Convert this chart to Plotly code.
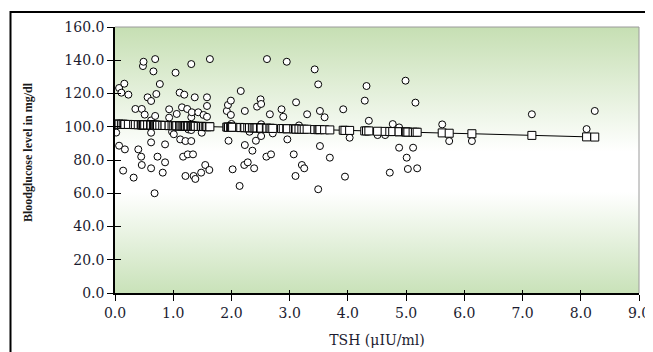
import plotly.graph_objects as go
import base64

# ---- data ----
tsh = [0.02, 0.07, 0.07, 0.11, 0.14, 0.16, 0.17, 0.23, 0.32, 0.35,
       0.40, 0.45, 0.46, 0.46, 0.48, 0.49, 0.51, 0.56, 0.62, 0.62,
       0.62, 0.62, 0.62, 0.66, 0.68, 0.69, 0.69, 0.71, 0.73, 0.77,
       0.82, 0.86, 0.86, 0.93, 0.93, 0.98, 1.01, 1.04, 1.06, 1.11,
       1.12, 1.15, 1.17, 1.19, 1.21, 1.21, 1.24, 1.25, 1.26, 1.31,
       1.31, 1.31, 1.31, 1.32, 1.34, 1.35, 1.37, 1.38, 1.43, 1.48,
       1.49, 1.52, 1.55, 1.58, 1.58, 1.58, 1.62, 1.63, 1.92, 1.94,
       1.95, 1.99, 1.99, 2.00, 2.02, 2.14, 2.16, 2.22, 2.23, 2.23,
       2.28, 2.31, 2.36, 2.39, 2.42, 2.44, 2.50, 2.51, 2.51, 2.51,
       2.60, 2.61, 2.66, 2.68, 2.71, 2.86, 2.89, 2.95, 2.96, 3.07,
       3.10, 3.11, 3.16, 3.21, 3.25, 3.30, 3.43, 3.49, 3.49, 3.52,
       3.52, 3.60, 3.69, 3.92, 3.95, 4.03, 4.29, 4.32, 4.36, 4.51,
       4.64, 4.72, 4.77, 4.88, 4.88, 4.99, 5.01, 5.03, 5.12, 5.16,
       5.19, 5.62, 5.74, 6.13, 7.16, 8.10, 8.24]

glucose = [96.5, 123.3, 88.6, 120.5, 73.6, 125.9, 86.4, 119.3, 69.4, 110.7,
           86.4, 82.0, 110.7, 77.0, 136.5, 139.1, 107.3, 117.7, 115.5, 103.8,
           96.4, 90.6, 75.0, 133.3, 60.0, 140.7, 106.5, 119.7, 82.0, 125.7,
           72.4, 89.4, 78.6, 110.5, 105.5, 97.0, 95.5, 132.5, 107.7, 120.5,
           92.4, 111.7, 82.0, 119.3, 91.4, 70.4, 110.7, 83.4, 98.4, 137.7,
           105.7, 98.0, 91.4, 108.7, 83.4, 70.4, 117.7, 68.6, 108.7, 72.4,
           96.4, 107.1, 77.0, 117.7, 112.5, 106.0, 74.0, 140.7, 109.5, 113.1,
           91.6, 115.7, 107.1, 101.7, 74.4, 64.4, 121.5, 77.0, 109.5, 89.0,
           78.6, 97.0, 85.6, 75.0, 91.6, 112.1, 116.5, 113.7, 101.5, 94.4,
           82.0, 140.7, 107.5, 83.4, 96.0, 110.5, 106.0, 139.1, 92.4, 83.4,
           70.4, 114.7, 100.8, 77.0, 75.0, 107.5, 134.5, 125.5, 62.4, 109.5,
           88.4, 105.7, 81.4, 110.5, 70.0, 93.4, 115.7, 124.5, 103.6, 95.0,
           95.0, 72.4, 101.6, 99.6, 87.4, 127.7, 81.4, 74.6, 87.4, 114.5,
           75.0, 101.4, 91.4, 91.4, 107.5, 98.6, 109.5]

predicted = [101.6, 101.5, 101.5, 101.5, 101.5, 101.4, 101.4, 101.4, 101.3, 101.3,
             101.2, 101.2, 101.2, 101.2, 101.1, 101.1, 101.1, 101.1, 101.0, 101.0,
             101.0, 101.0, 101.0, 101.0, 100.9, 100.9, 100.9, 100.9, 100.9, 100.9,
             100.8, 100.8, 100.8, 100.7, 100.7, 100.7, 100.6, 100.6, 100.6, 100.5,
             100.5, 100.5, 100.5, 100.5, 100.4, 100.4, 100.4, 100.4, 100.4, 100.4,
             100.4, 100.4, 100.4, 100.3, 100.3, 100.3, 100.3, 100.3, 100.2, 100.2,
             100.2, 100.2, 100.1, 100.1, 100.1, 100.1, 100.1, 100.0, 99.8, 99.8,
             99.7, 99.7, 99.7, 99.7, 99.7, 99.6, 99.5, 99.5, 99.5, 99.5,
             99.4, 99.4, 99.4, 99.3, 99.3, 99.3, 99.2, 99.2, 99.2, 99.2,
             99.1, 99.1, 99.1, 99.0, 99.0, 98.9, 98.9, 98.8, 98.8, 98.7,
             98.7, 98.6, 98.6, 98.5, 98.5, 98.5, 98.3, 98.3, 98.3, 98.3,
             98.3, 98.2, 98.1, 97.9, 97.8, 97.8, 97.5, 97.5, 97.5, 97.3,
             97.2, 97.1, 97.1, 97.0, 97.0, 96.9, 96.8, 96.8, 96.7, 96.7,
             96.7, 96.3, 96.1, 95.8, 94.8, 93.9, 93.8]

x_ticks = [0, 1, 2, 3, 4, 5, 6, 7, 8, 9]
y_ticks = [0, 20, 40, 60, 80, 100, 120, 140, 160]
x_title = "TSH (μIU/ml)"
y_title = "Bloodglucose level in mg/dl"

# ---- styling ----
# The page body adds an 8 px offset, so the figure is laid out 8 px up/left.
OFF = 8
W, H = 653, 352
ML, MT = 115 - OFF, 27 - OFF
pw, ph = 524, 266
MR, MB = W - ML - pw, H - MT - ph
tick_font = dict(family="DejaVu Serif", size=14, color="#1c1c30")

svg = ('<svg xmlns="http://www.w3.org/2000/svg" width="10" height="100" preserveAspectRatio="none">'
       '<defs><linearGradient id="g" x1="0" y1="0" x2="0" y2="1">'
       '<stop offset="0" stop-color="#c6dfb3"/>'
       '<stop offset="0.47" stop-color="#ffffff"/>'
       '<stop offset="0.62" stop-color="#ffffff"/>'
       '<stop offset="1" stop-color="#c9e2b9"/>'
       '</linearGradient></defs>'
       '<rect x="0" y="0" width="10" height="100" fill="url(#g)"/></svg>')
src = "data:image/svg+xml;base64," + base64.b64encode(svg.encode()).decode()

fig = go.Figure()
fig.add_trace(go.Scatter(
    x=tsh, y=glucose, mode="markers",
    marker=dict(symbol="circle", size=7, color="white",
                line=dict(color="black", width=1)),
    showlegend=False, hoverinfo="x+y"))
fig.add_trace(go.Scatter(
    x=tsh, y=predicted, mode="lines+markers",
    line=dict(color="black", width=1),
    marker=dict(symbol="square", size=8, color="white",
                line=dict(color="black", width=1)),
    showlegend=False, hoverinfo="x+y"))

axis_common = dict(showgrid=False, zeroline=False, showline=True, automargin=False,
                   linecolor="black", linewidth=1.5, ticks="outside",
                   ticklen=6, tickcolor="black", tickwidth=1.2,
                   tickfont=tick_font, tickformat=".1f")

# frame positions in viewport pixels
fx0, fy0 = 10.5 - OFF, 12 - OFF

fig.update_layout(
    width=W, height=H,
    margin=dict(l=ML, r=MR, t=MT, b=MB, pad=0, autoexpand=False),
    paper_bgcolor="white", plot_bgcolor="white",
    font=dict(family="DejaVu Serif", color="#1c1c30"),
    xaxis=dict(range=[0, 9], tickvals=x_ticks, **axis_common,
               title=dict(text=x_title, font=dict(family="DejaVu Serif", size=14,
                                                   color="#1c1c30"), standoff=16)),
    yaxis=dict(range=[0, 160], tickvals=y_ticks, **axis_common),
    xaxis2=dict(overlaying="x", range=[0, 9], tickvals=x_ticks, showticklabels=False,
                ticks="inside", ticklen=3, tickcolor="black", tickwidth=1.2, automargin=False,
                showgrid=False, zeroline=False, showline=False),
    yaxis2=dict(overlaying="y", range=[0, 160], tickvals=y_ticks, showticklabels=False,
                ticks="inside", ticklen=6, tickcolor="black", tickwidth=1.2, automargin=False,
                showgrid=False, zeroline=False, showline=False),
    images=[dict(source=src, xref="x", yref="y", x=0, y=160, sizex=9, sizey=160,
                 sizing="stretch", layer="below", xanchor="left", yanchor="top")],
    shapes=[
        dict(type="line", xref="paper", yref="paper", x0=0, x1=1, y0=1, y1=1,
             line=dict(color="#9a9a9a", width=1)),
        dict(type="line", xref="paper", yref="paper", x0=1, x1=1, y0=0, y1=1,
             line=dict(color="#9a9a9a", width=1)),
        dict(type="rect", xref="paper", yref="paper",
             x0=(fx0 - ML) / pw, x1=(W + 20 - ML) / pw,
             y0=(MT + ph - (H + 20)) / ph, y1=(MT + ph - fy0) / ph,
             line=dict(color="black", width=2)),
    ],
    annotations=[dict(text="<b>" + y_title + "</b>", textangle=-90,
                      xref="paper", yref="paper",
                      x=(28 - OFF - ML) / pw, y=0.53, xanchor="center", yanchor="middle",
                      showarrow=False,
                      font=dict(family="Liberation Serif", size=12, color="#1a1a1a"))],
)
# dummy invisible trace to anchor secondary axes
fig.add_trace(go.Scatter(x=[None], y=[None], xaxis="x2", yaxis="y2",
                         showlegend=False, hoverinfo="skip"))

fig.write_html("out.html")
